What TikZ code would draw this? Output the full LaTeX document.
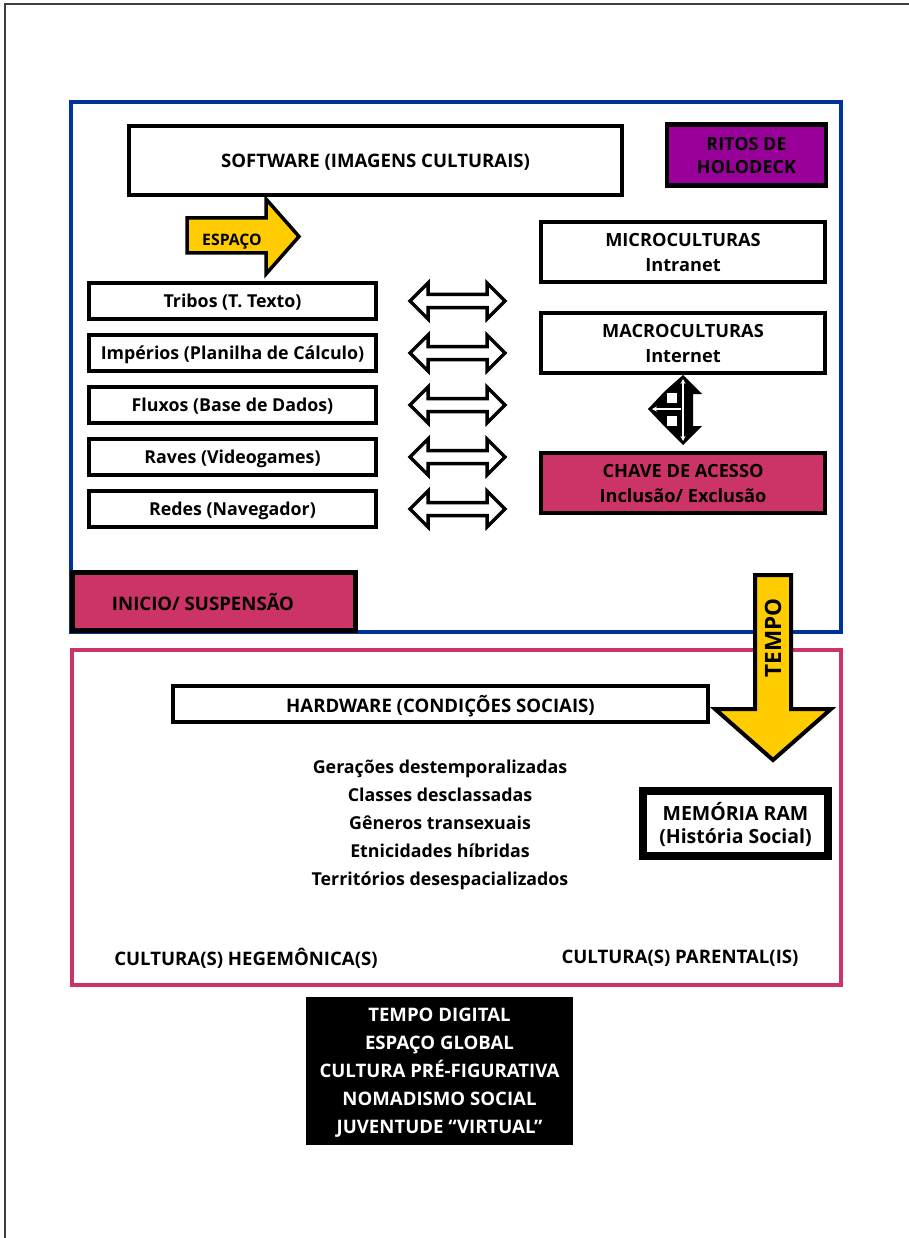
\documentclass[tikz,border=0pt]{standalone}
\usepackage{fontspec}
\setmainfont{Open Sans}
\usetikzlibrary{arrows.meta}
\definecolor{frameblue}{HTML}{003399}
\definecolor{framepink}{HTML}{CC3366}
\definecolor{holopurple}{HTML}{990099}
\definecolor{arrowyellow}{HTML}{FFCC00}
\begin{document}
\begin{tikzpicture}[x=1pt,y=-1pt,
  txt/.style={font=\fontsize{18.6}{25}\selectfont\bfseries, align=center, inner sep=0pt, text depth=0pt},
  mtxt/.style={font=\fontsize{17.8}{25}\selectfont\bfseries, align=center, inner sep=0pt, text depth=0pt},
  wbox/.style={draw=black, line width=4.5pt, fill=white},
  pbox/.style={draw=black, line width=4.5pt, fill=framepink},
  dblarrow/.style={draw=black, line width=3.5pt, fill=white, line join=miter},
  yarrow/.style={draw=black, line width=4pt, fill=arrowyellow, line join=miter}
]
\useasboundingbox (0,0) rectangle (909,1238);
\fill[white] (0,0) rectangle (909,1238);
\draw[black!75, line width=1.5pt] (5,1238) -- (5,4) -- (909,4);

% blue frame
\draw[frameblue, line width=4pt] (71,102) rectangle (841,632);

% software box
\node[wbox, txt, minimum width=493, minimum height=69] (sw) at (375.5,160.5) {SOFTWARE (IMAGENS CULTURAIS)};
\node[draw=black, line width=4.5pt, fill=holopurple, txt, font=\fontsize{18}{23}\selectfont\bfseries, minimum width=159, minimum height=61] (holo) at (746.5,155) {RITOS DE\\HOLODECK};

% espaco arrow
\draw[yarrow, line width=3.5pt] (187,218) -- (266,218) -- (266,199) -- (299,236.5) -- (266,274) -- (266,253) -- (187,253) -- cycle;
\node[txt, font=\fontsize{15.8}{18}\selectfont\bfseries] (esp) at (232,240) {ESPAÇO};

% left boxes
\node[wbox, mtxt, minimum width=287, minimum height=36] (tri) at (232.5,301) {Tribos (T. Texto)};
\node[wbox, mtxt, minimum width=287, minimum height=36] (imp) at (232.5,353) {Impérios (Planilha de Cálculo)};
\node[wbox, mtxt, minimum width=287, minimum height=36] (flu) at (232.5,405) {Fluxos (Base de Dados)};
\node[wbox, mtxt, minimum width=287, minimum height=36] (rav) at (232.5,457) {Raves (Videogames)};
\node[wbox, mtxt, minimum width=287, minimum height=36] (red) at (232.5,509) {Redes (Navegador)};

% double arrows
\foreach \c in {301,353,405,457,509}{
  \draw[dblarrow] (410,\c) -- (428,\c-18) -- (428,\c-6.5) -- (487,\c-6.5) -- (487,\c-18) -- (505,\c)
     -- (487,\c+18) -- (487,\c+6.5) -- (428,\c+6.5) -- (428,\c+18) -- cycle;
}

% right boxes
\node[wbox, txt, font=\fontsize{18.2}{25}\selectfont\bfseries, minimum width=284, minimum height=60] (micro) at (683,252) {MICROCULTURAS\\Intranet};
\node[wbox, txt, font=\fontsize{18.2}{25}\selectfont\bfseries, minimum width=284, minimum height=60] (macro) at (683,343) {MACROCULTURAS\\Internet};
\node[pbox, txt, font=\fontsize{18.2}{25}\selectfont\bfseries, minimum width=284, minimum height=60] (chave) at (683,483) {CHAVE DE ACESSO\\Inclusão/ Exclusão};

% left-up-down arrow
\fill[black] (683,375) -- (702,394) -- (693,394) -- (693,426) -- (702,426) -- (683,445) -- (665,427) -- (648,409) -- (665,391) -- cycle;
\fill[white] (667,393) rectangle (677,403);
\fill[white] (667,416) rectangle (677,426);
\draw[white, line width=1.3pt, {Stealth[length=5pt,width=5pt]}-{Stealth[length=5pt,width=5pt]}] (683,379) -- (683,441);
\draw[white, line width=1.3pt, -{Stealth[length=5pt,width=5pt]}] (681,409) -- (652,409);

% inicio box
\node[draw=black, line width=5pt, fill=framepink, minimum width=283, minimum height=58] (ini) at (214,601.5) {};
\node[txt] (initxt) at (203,601.5) {INICIO/ SUSPENSÃO};

% pink frame
\draw[framepink, line width=4pt] (72,650) rectangle (841,985);

% tempo arrow
\draw[yarrow] (755,575) -- (791,575) -- (791,709) -- (831,709) -- (773,760) -- (715,709) -- (755,709) -- cycle;
\node[rotate=90, inner sep=0pt, font=\fontsize{22.5}{24}\selectfont\bfseries] (tempo) at (773,638) {TEMPO};

% hardware
\node[wbox, txt, minimum width=535, minimum height=36] (hw) at (440.5,704) {HARDWARE (CONDIÇÕES SOCIAIS)};

\node[mtxt, font=\fontsize{17.8}{28}\selectfont\bfseries] (lista) at (440,822.5) {Gerações destemporalizadas\\Classes desclassadas\\Gêneros transexuais\\Etnicidades híbridas\\Territórios desespacializados};

\node[draw=black, line width=8pt, fill=white, txt, font=\fontsize{19.5}{22.5}\selectfont\bfseries, minimum width=185, minimum height=65] (ram) at (735.5,823) {MEMÓRIA RAM\\(História Social)};

\node[txt] (heg) at (246,956.5) {CULTURA(S) HEGEMÔNICA(S)};
\node[txt] (par) at (680,956.5) {CULTURA(S) PARENTAL(IS)};

\node[fill=black, text=white, txt, font=\fontsize{18.6}{28}\selectfont\bfseries, minimum width=267, minimum height=148] (digital) at (439.5,1071) {TEMPO DIGITAL\\ESPAÇO GLOBAL\\CULTURA PRÉ-FIGURATIVA\\NOMADISMO SOCIAL\\JUVENTUDE “VIRTUAL”};
\end{tikzpicture}
\end{document}
